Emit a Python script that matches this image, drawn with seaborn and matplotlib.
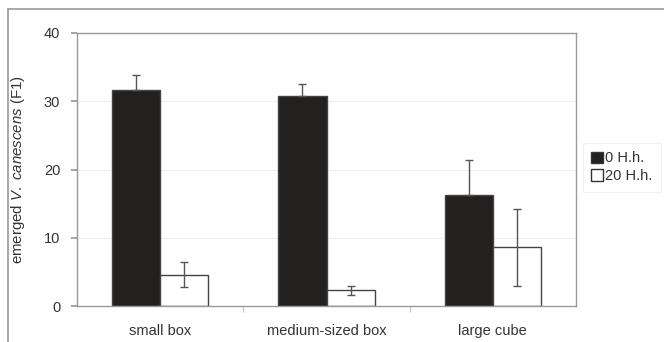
import matplotlib
matplotlib.use("Agg")
import matplotlib.pyplot as plt
import seaborn as sns
import pandas as pd
import numpy as np
from matplotlib.lines import Line2D

categories = ["small box", "medium-sized box", "large cube"]
series = ["0 H.h.", "20 H.h."]
values_0 = [31.7, 30.8, 16.3]
err_0 = [2.2, 1.8, 5.1]
values_20 = [4.6, 2.3, 8.6]
err_20 = [1.85, 0.7, 5.6]

df = pd.DataFrame({
    "category": categories * 2,
    "series": [series[0]] * 3 + [series[1]] * 3,
    "value": values_0 + values_20,
})

sns.set_theme(style="white")
plt.rcParams["font.family"] = ["Liberation Sans", "DejaVu Sans"]
plt.rcParams["mathtext.fontset"] = "custom"
plt.rcParams["mathtext.rm"] = "Liberation Sans"
plt.rcParams["mathtext.it"] = "Liberation Sans:italic"

fig = plt.figure(figsize=(6.64, 3.42), dpi=100)
W, H = 664, 342
ax = fig.add_axes([77 / W, 1 - 306 / H, (576 - 77) / W, (306 - 33) / H])

sns.barplot(data=df, x="category", y="value", hue="series", order=categories,
            hue_order=series, palette=["#231f20", "white"], width=0.58,
            edgecolor="#444444", linewidth=1.0, errorbar=None, ax=ax, zorder=2)

# error bars
bar_containers = list(ax.containers)
for i, cont in enumerate(bar_containers):
    xs = [p.get_x() + p.get_width() / 2 for p in cont.patches]
    if i == 0:
        ys = values_0
        yerr = [np.zeros(3), err_0]
    else:
        ys = values_20
        yerr = [err_20, err_20]
    ax.errorbar(xs, ys, yerr=yerr, fmt="none", ecolor="#555555",
                elinewidth=1.0, capsize=3, capthick=1.0, zorder=3)

ax.set_ylim(0, 40)
ax.set_xlim(-0.5, 2.5)
ax.set_yticks([0, 10, 20, 30, 40])
ax.set_yticklabels(["0", "10", "20", "30", "40"])
for y in [10, 20, 30]:
    ax.axhline(y, color="#eeeeee", lw=0.8, zorder=0)

for s in ax.spines.values():
    s.set_color("#999999")
    s.set_linewidth(1.0)
    s.set_visible(True)

ax.tick_params(axis="y", which="both", left=True, length=4, color="#999999",
               labelsize=10.5, labelcolor="#333333", pad=8)
ax.set_xticks([0, 1, 2])
ax.set_xticklabels(categories)
ax.tick_params(axis="x", bottom=False, labelsize=10.5, labelcolor="#333333", pad=7)
ax.set_xticks([0.5, 1.5], minor=True)
ax.tick_params(axis="x", which="minor", bottom=True, length=4, color="#cccccc")
ax.set_xlabel("")
ax.set_ylabel(r"emerged $\it{V.\ canescens}$ (F1)", fontsize=10.8, color="#333333",
              labelpad=12)

leg = ax.legend(loc="upper left", bbox_to_anchor=(587 / W, 1 - 147 / H),
                bbox_transform=fig.transFigure, frameon=True, fontsize=10.5,
                handlelength=0.8, handleheight=0.8, handletextpad=0.15,
                borderpad=0.3, labelspacing=0.25, borderaxespad=0)
leg.get_frame().set_edgecolor("#eeeeee")
leg.get_frame().set_linewidth(0.8)
leg.get_frame().set_boxstyle("square")
for t in leg.get_texts():
    t.set_color("#333333")
for h in leg.legend_handles:
    h.set_edgecolor("#333333")

# outer frame (partially cropped)
fig.add_artist(Line2D([8 / W, 1.0], [1 - 9 / H, 1 - 9 / H], color="#999999", lw=1.2,
                      transform=fig.transFigure))
fig.add_artist(Line2D([8 / W, 8 / W], [0.0, 1 - 9 / H], color="#999999", lw=1.2,
                      transform=fig.transFigure))

fig.savefig("out.png", dpi=100)
